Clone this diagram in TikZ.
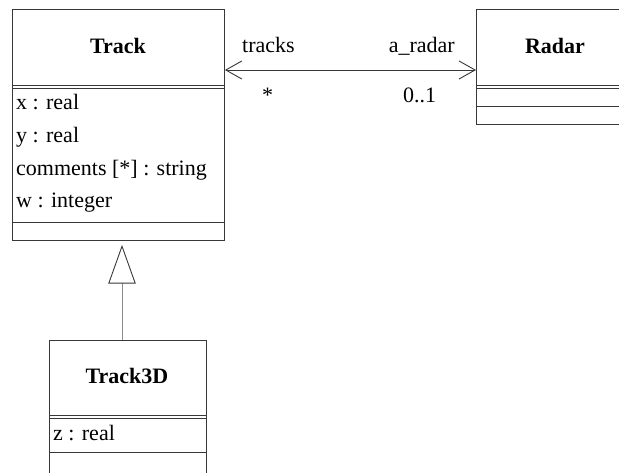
\documentclass[tikz,border=0pt]{standalone}
\usepackage{fontspec}
\setmainfont{Liberation Serif}
\usetikzlibrary{arrows.meta}
\begin{document}
\begin{tikzpicture}[x=1pt,y=-1pt,
  ln/.style={draw=black!78,line width=0.9pt},
  box/.style={ln,fill=white},
  txt/.style={anchor=base,inner sep=0pt,font=\fontsize{22}{26}\selectfont},
  ttl/.style={txt,font=\fontsize{22}{26}\selectfont\bfseries},
  attr/.style={txt,anchor=base west},
  assoc/.style={ln,{Straight Barb[length=16pt,width=18pt]}-{Straight Barb[length=16pt,width=18pt]}},
  gen/.style={draw=black!45,line width=1pt,-{Triangle[open,length=38.7pt,width=27.4pt,color=black!78,line width=0.9pt]}}
]
\useasboundingbox (0,0) rectangle (619,473);
\clip (0,0) rectangle (619,473);
\fill[white] (0,0) rectangle (619,473);

% Track
\node[box,minimum width=212pt,minimum height=230.5pt,anchor=north west,inner sep=0pt] (track) at (12,9.5) {};
\draw[ln] (12,85) -- (224,85) (12,88) -- (224,88) (12,222.7) -- (224,222.7);
\node[ttl] (tracktitle) at (118,54) {Track};
\node[attr] (ax) at (16,110) {x : real};
\node[attr] (ay) at (16,143) {y : real};
\node[attr] (ac) at (16,175.5) {comments [*] : string};
\node[attr] (aw) at (16,207.5) {w : integer};

% Radar
\node[box,minimum width=158pt,minimum height=114.5pt,anchor=north west,inner sep=0pt] (radar) at (476,9.5) {};
\draw[ln] (476,85) -- (634,85) (476,88) -- (634,88) (476,106) -- (634,106);
\node[ttl] (radartitle) at (555,54) {Radar};

% Track3D
\node[box,minimum width=156.4pt,minimum height=150pt,anchor=north west,inner sep=0pt] (track3d) at (49.3,340) {};
\draw[ln] (49.3,415) -- (205.7,415) (49.3,418) -- (205.7,418) (49.3,452.7) -- (205.7,452.7);
\node[ttl] (t3dtitle) at (127,383) {Track3D};
\node[attr] (az) at (53,440) {z : real};

% association
\coordinate (assocy) at (0,70);
\draw[assoc] (track.east |- assocy) -- (radar.west |- assocy);
\node[txt,anchor=base west] (lt) at (242,53) {tracks};
\node[txt,anchor=base east] (lr) at (455,53) {a\_radar};
\node[txt] (mt) at (267.5,103) {*};
\node[txt] (mr) at (419.5,103) {0..1};

% generalization
\coordinate (genx) at (122,0);
\draw[gen,shorten >=4pt] (track3d.north -| genx) -- (track.south -| genx);
\end{tikzpicture}
\end{document}
